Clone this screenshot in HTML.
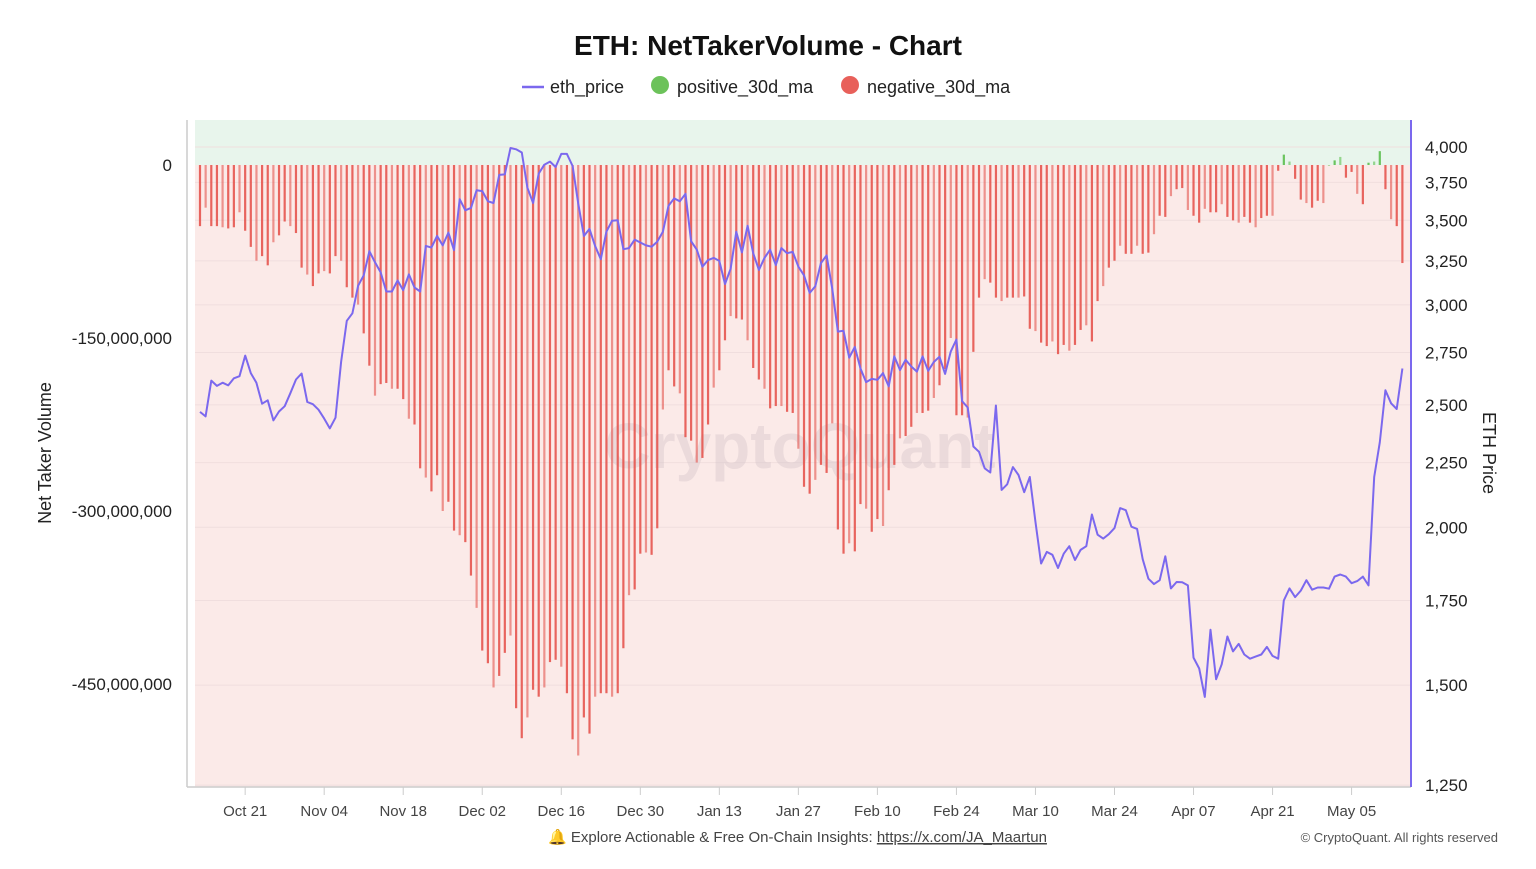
<!DOCTYPE html>
<html><head><meta charset="utf-8"><style>
body{margin:0;background:#fff;font-family:"Liberation Sans",sans-serif;}
svg text{font-family:"Liberation Sans",sans-serif;}
</style></head><body>
<svg id="chart" width="1536" height="864" viewBox="0 0 1536 864">
<text x="768" y="55" text-anchor="middle" font-size="28" font-weight="bold" fill="#111">ETH: NetTakerVolume - Chart</text>
<g>
 <g><line x1="522" y1="87" x2="544" y2="87" stroke="#7b68ee" stroke-width="2.5"/><text x="550" y="93" font-size="18" fill="#222">eth_price</text></g>
 <g><circle cx="660" cy="85" r="9" fill="#6cc25a"/><text x="677" y="93" font-size="18" fill="#222">positive_30d_ma</text></g>
 <g><circle cx="850" cy="85" r="9" fill="#e8605a"/><text x="867" y="93" font-size="18" fill="#222">negative_30d_ma</text></g>
</g>
<rect x="195" y="120" width="1216" height="45" fill="#e8f5ec"/>
<rect x="195" y="165" width="1216" height="622" fill="#fbeae8"/>
<g id="grid"></g>
<text x="800" y="468" text-anchor="middle" font-size="64" font-weight="bold" fill="#d4c4c8" opacity="0.4">CryptoQuant</text>
<g id="bars"></g>
<g id="line"></g>
<line x1="187" y1="120" x2="187" y2="787" stroke="#ccc" stroke-width="1.5"/>
<line x1="187" y1="787" x2="1411" y2="787" stroke="#ccc" stroke-width="1.5"/>
<line x1="1411" y1="120" x2="1411" y2="787" stroke="#7b68ee" stroke-width="2"/>
<g id="yleft"></g>
<g id="yright"></g>
<g id="xaxis"></g>
<text transform="translate(51,453) rotate(-90)" text-anchor="middle" font-size="18" fill="#222">Net Taker Volume</text>
<text transform="translate(1483,453) rotate(90)" text-anchor="middle" font-size="18" fill="#222">ETH Price</text>
<text x="548" y="842" font-size="15" fill="#444">🔔 Explore Actionable &amp; Free On-Chain Insights: <tspan text-decoration="underline">https://x.com/JA_Maartun</tspan></text>
<text x="1498" y="842" text-anchor="end" font-size="13" fill="#555">© CryptoQuant. All rights reserved</text>
</svg>
<script>
const netVolume = [-53,-37,-53,-53,-54,-55,-54,-41,-57,-71,-83,-79,-87,-67,-61,-49,-53,-59,-89,-95,-105,-94,-92,-94,-79,-83,-106,-115,-121,-146,-174,-200,-190,-189,-194,-194,-203,-220,-225,-263,-271,-283,-269,-300,-292,-317,-321,-327,-356,-384,-421,-432,-453,-443,-423,-408,-471,-497,-479,-455,-461,-453,-431,-429,-435,-458,-498,-512,-479,-493,-461,-458,
-458,-461,-458,-419,-373,-368,-337,-336,-338,-315,-212,-178,-192,-198,-236,-239,-258,-254,-225,-193,-178,-152,-131,-133,-134,-152,-176,-186,-194,-211,-209,-209,-214,-215,-246,-279,-285,-273,-260,-267,-224,-316,-337,-328,-335,-294,-298,-318,-307,-313,-282,-260,-237,-235,-227,-215,-215,-213,-202,-191,-177,-150,-217,-217,-219,-162,-115,-99,-102,-115,-118,-115,-115,-115,
-114,-142,-144,-154,-157,-153,-164,-156,-161,-156,-143,-139,-153,-118,-105,-89,-83,-70,-77,-77,-70,-77,-76,-60,-44,-45,-27,-21,-20,-39,-44,-50,-38,-41,-41,-34,-45,-48,-50,-45,-50,-54,-46,-44,-44,-5,9,3,-12,-30,-33,-37,-31,-33,0,4,7,-11,-6,-25,-34,2,3,12,-21,-47,-53,-85];
const ethPrice = [2468,2448,2613,2588,2603,2590,2624,2634,2735,2649,2603,2505,2521,2430,2470,2494,2553,2618,2647,2513,2503,2478,2438,2395,2442,2703,2914,2954,3106,3166,3308,3242,3184,3074,3074,3136,3081,3171,3096,3074,3340,3330,3401,3343,3422,3314,3637,3564,3580,3697,3691,3623,3612,3802,3805,3993,3983,3960,3714,3612,3811,3873,3895,3857,3950,3950,3864,3610,3401,3445,3340,3260,3428,
3497,3500,3320,3327,3379,3361,3343,3335,3366,3428,3594,3642,3623,3673,3369,3317,3216,3255,3268,3250,3116,3203,3428,3301,3465,3296,3197,3268,3317,3226,3327,3296,3304,3216,3166,3066,3103,3237,3283,3091,2857,2862,2725,2778,2671,2606,2621,2617,2649,2586,2731,2664,2714,2681,2656,2731,2660,2703,2729,2645,2756,2816,2517,2488,2317,2295,2227,2210,2497,2141,2163,2232,2200,
2132,2192,2018,1872,1912,1902,1857,1906,1932,1884,1919,1932,2047,1973,1959,1975,1997,2071,2063,2002,1994,1887,1821,1803,1816,1897,1789,1810,1809,1799,1577,1546,1468,1659,1516,1558,1639,1595,1617,1586,1574,1580,1586,1608,1582,1574,1750,1789,1761,1782,1816,1785,1792,1792,1788,1828,1835,1828,1806,1813,1828,1799,2192,2335,2567,2507,2481,2671];
const xTickLabels = ["Oct 21","Nov 04","Nov 18","Dec 02","Dec 16","Dec 30","Jan 13","Jan 27","Feb 10","Feb 24","Mar 10","Mar 24","Apr 07","Apr 21","May 05"];
const xTickIndex = [8,22,36,50,64,78,92,106,120,134,148,162,176,190,204];
const leftTicks = [0,-150,-300,-450];
const leftTickLabels = ["0","-150,000,000","-300,000,000","-450,000,000"];
const rightTicks = [1250,1500,1750,2000,2250,2500,2750,3000,3250,3500,3750,4000];
const rightTickLabels = ["1,250","1,500","1,750","2,000","2,250","2,500","2,750","3,000","3,250","3,500","3,750","4,000"];

const NS="http://www.w3.org/2000/svg";
const xOf = i => 200 + i*5.645;
const yL = v => 165 - v*173/150;
const yR = p => 147 + (Math.log(4000)-Math.log(p))*548.6;
function mk(tag, attrs, parent){const e=document.createElementNS(NS,tag);for(const k in attrs)e.setAttribute(k,attrs[k]);parent.appendChild(e);return e;}

const grid=document.getElementById('grid');
rightTicks.forEach((p,i)=>{
  const g=mk('line',{x1:195,x2:1411,y1:yR(p),y2:yR(p),stroke:'#f0dede','stroke-width':1},grid);
  
  
});
const bars=document.getElementById('bars');
netVolume.forEach((v,i)=>{
  const y0=yL(0), y1=yL(v);
  const r=mk('rect',{x:xOf(i)-1.1,y:Math.min(y0,y1),width:2.2,height:Math.max(0.5,Math.abs(y1-y0)),fill:v>=0?'#5cbf4f':'#e5554f',opacity:(i%3==1)?0.6:0.9},bars);
  
  
});
const line=document.getElementById('line');
const pts=ethPrice.map((p,i)=>xOf(i).toFixed(1)+','+yR(p).toFixed(1)).join(' ');
const pl=mk('polyline',{points:pts,fill:'none',stroke:'#7b68ee','stroke-width':2,'stroke-linejoin':'round'},line);



const yl=document.getElementById('yleft');
leftTicks.forEach((v,i)=>{
  const t=mk('text',{x:172,y:yL(v)+6,'text-anchor':'end','font-size':17,fill:'#222'},yl);
  t.textContent=leftTickLabels[i];
  
  
});
const yr=document.getElementById('yright');
rightTicks.forEach((p,i)=>{
  const t=mk('text',{x:1425,y:yR(p)+6,'font-size':17,fill:'#222'},yr);
  t.textContent=rightTickLabels[i];
  
  
});
const xa=document.getElementById('xaxis');
xTickLabels.forEach((l,i)=>{
  const x=xOf(xTickIndex[i]);
  const tk=mk('line',{x1:x,x2:x,y1:787,y2:795,stroke:'#ccc'},xa);
  
  
  const t=mk('text',{x:x,y:816,'text-anchor':'middle','font-size':15,fill:'#444'},xa);
  t.textContent=l;
  
  
});
</script>
</body></html>
